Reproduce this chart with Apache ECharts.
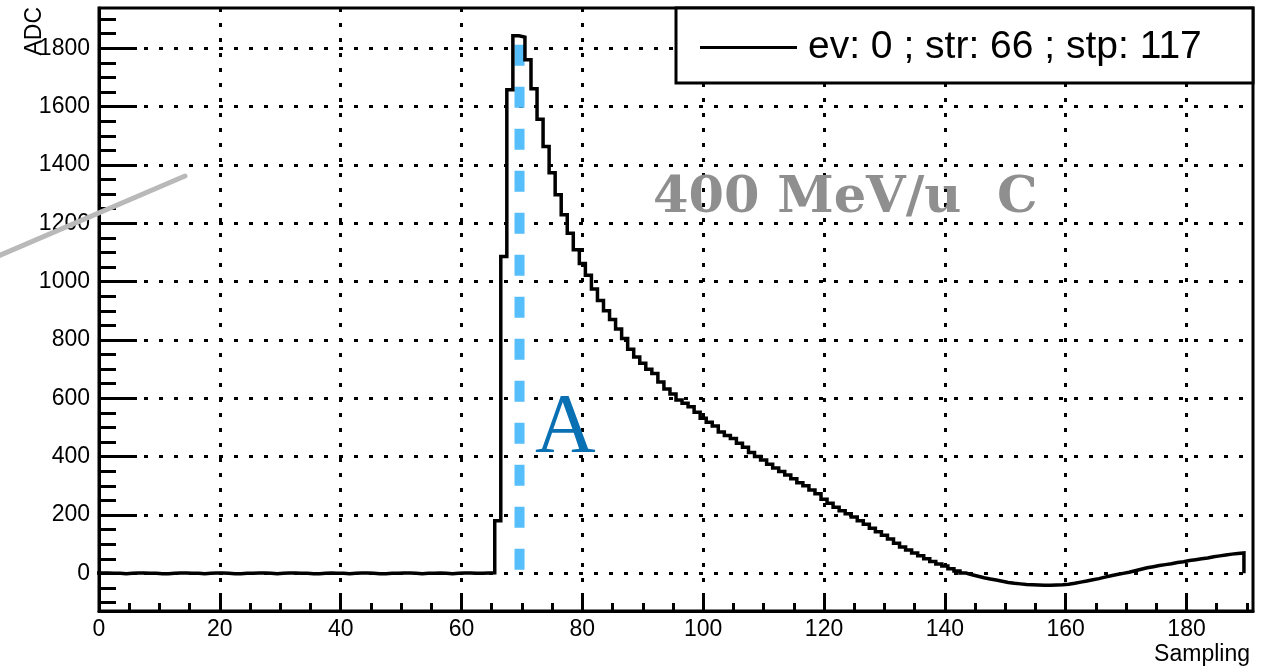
<!DOCTYPE html>
<html>
<head>
<meta charset="utf-8">
<title>ADC waveform</title>
<script src="https://cdn.jsdelivr.net/npm/echarts@6/dist/echarts.min.js"></script>
<style>
  html, body { margin: 0; padding: 0; background: #ffffff; }
  #chart { width: 1275px; height: 670px; }
</style>
</head>
<body>
<div id="chart"></div>
<script>
// ADC counts per sampling bin (bin k is centred on k)
const adcValues = [
  1, 1, 0, 0, -1, 0, 1, 1, 0, 0,
  -1, -1, 0, 1, 1, 0, 0, -1, 0, 1,
  1, 0, -1, -1, 0, 0, 1, 1, 0, -1,
  0, 1, 1, 0, 0, -1, -1, 0, 1, 0,
  0, -1, 0, 1, 1, 0, -1, -1, 0, 0,
  1, 1, 0, -1, 0, 0, 1, 0, -1, 0,
  1, 1, 0, 0, 1, 2, 180, 1086, 1658, 1843,
  1838, 1761, 1661, 1557, 1463, 1373, 1298, 1229, 1166, 1109,
  1062, 1022, 975, 935, 900, 870, 838, 805, 768, 742,
  720, 700, 685, 656, 632, 615, 594, 583, 571, 552,
  532, 518, 505, 485, 473, 462, 446, 432, 414, 401,
  389, 374, 361, 349, 337, 324, 311, 300, 286, 273,
  254, 240, 227, 215, 204, 193, 180, 168, 155, 143,
  131, 118, 103, 90, 80, 70, 60, 50, 41, 32,
  25, 16, 8, 1, -5, -10, -15, -19, -23, -27,
  -31, -34, -36, -38, -39, -40, -41, -41, -40, -39,
  -37, -34, -30, -26, -22, -18, -13, -8, -4, 0,
  4, 9, 14, 19, 23, 27, 30, 33, 37, 40,
  44, 47, 50, 53, 57, 60, 63, 66, 68, 70
];

// axis ranges and tick values
const samplingRange = [0, 191];
const adcRange = [-129, 1938];
const xMajorTicks = [0, 20, 40, 60, 80, 100, 120, 140, 160, 180];
const xMinorTicks = [5, 10, 15, 25, 30, 35, 45, 50, 55, 65, 70, 75, 85, 90, 95,
  105, 110, 115, 125, 130, 135, 145, 150, 155, 165, 170, 175, 185, 190];
const yMajorTicks = [0, 200, 400, 600, 800, 1000, 1200, 1400, 1600, 1800];
const yMinorTicks = [-100, -50, 50, 100, 150, 250, 300, 350, 450, 500, 550, 650, 700, 750,
  850, 900, 950, 1050, 1100, 1150, 1250, 1300, 1350, 1450, 1500, 1550, 1650, 1700, 1750,
  1850, 1900];

// amplitude marker: sampling position and its vertical extent
const amplitudeMarkX = 69.6;
const amplitudeMarkSpan = [1812, 5];

// texts
const histTitle = 'ev: 0 ; str: 66 ; stp: 117';
const xTitle = 'Sampling';
const yTitle = 'ADC';
const beamText = '400 MeV/u  C';
const amplitudeText = 'A';

// histogram outline: one point on each bin's left edge, then the closing edge
const histPoints = adcValues.map((v, k) => [k - 0.5, v]);
histPoints.push([adcValues.length - 0.5, adcValues[adcValues.length - 1]]);
histPoints.push([adcValues.length - 0.5, 0]);

const markerPoints = amplitudeMarkSpan.map(v => [amplitudeMarkX, v]);

const FONT = '"Liberation Sans", Arial, Helvetica, sans-serif';
const dotted = { color: '#000', width: 3, type: [4, 11] };
const plainNumber = v => String(v);

const chart = echarts.init(document.getElementById('chart'), null, { renderer: 'canvas' });

chart.setOption({
  animation: false,
  backgroundColor: '#ffffff',
  grid: {
    left: 99, right: 22, top: 8, bottom: 59,
    show: true, borderColor: '#000', borderWidth: 3,
    backgroundColor: 'transparent',
    outerBoundsMode: 'none'
  },
  xAxis: [
    {
      type: 'value', position: 'bottom',
      min: samplingRange[0], max: samplingRange[1],
      axisLine: { show: true, onZero: false, lineStyle: { color: '#000', width: 3 } },
      axisTick: { show: true, inside: true, length: 17, lineStyle: { color: '#000', width: 3 },
        customValues: xMajorTicks },
      axisLabel: { show: true, customValues: xMajorTicks, margin: 7, formatter: plainNumber,
        color: '#000', fontSize: 23, fontFamily: FONT },
      splitLine: { show: true, lineStyle: dotted },
      minorTick: { show: false }
    },
    {
      type: 'value', position: 'bottom', offset: 0,
      min: samplingRange[0], max: samplingRange[1],
      axisLine: { show: false, onZero: false },
      axisTick: { show: true, inside: true, length: 8, lineStyle: { color: '#000', width: 3 },
        customValues: xMinorTicks },
      axisLabel: { show: false },
      splitLine: { show: false }
    }
  ],
  yAxis: [
    {
      type: 'value', position: 'left',
      min: adcRange[0], max: adcRange[1],
      axisLine: { show: true, onZero: false, lineStyle: { color: '#000', width: 3 } },
      axisTick: { show: true, inside: true, length: 38, lineStyle: { color: '#000', width: 3 },
        customValues: yMajorTicks },
      axisLabel: { show: true, customValues: yMajorTicks, margin: 9, formatter: plainNumber,
        color: '#000', fontSize: 23, fontFamily: FONT },
      splitLine: { show: true, lineStyle: dotted },
      minorTick: { show: false }
    },
    {
      type: 'value', position: 'left', offset: 0,
      min: adcRange[0], max: adcRange[1],
      axisLine: { show: false, onZero: false },
      axisTick: { show: true, inside: true, length: 17, lineStyle: { color: '#000', width: 3 },
        customValues: yMinorTicks },
      axisLabel: { show: false },
      splitLine: { show: false }
    }
  ],
  legend: {
    data: [{ name: histTitle, icon: 'rect' }],
    left: 700, top: 28,
    padding: 0,
    itemWidth: 97, itemHeight: 3, itemGap: 0,
    selectedMode: false,
    z: 20,
    itemStyle: { color: '#000', borderWidth: 0 },
    textStyle: { color: '#000', fontSize: 39, fontFamily: FONT, padding: [0, 0, 0, 6] }
  },
  series: [
    {
      name: 'amplitude',
      type: 'line',
      xAxisIndex: 0, yAxisIndex: 0,
      data: markerPoints,
      symbol: 'none',
      silent: true,
      z: 2,
      lineStyle: { color: '#56BEFA', width: 10, type: [21, 21], cap: 'butt' }
    },
    {
      name: histTitle,
      type: 'line',
      xAxisIndex: 0, yAxisIndex: 0,
      step: 'end',
      data: histPoints,
      symbol: 'none',
      clip: true,
      z: 3,
      lineStyle: { color: '#000', width: 3.5, join: 'miter' },
      itemStyle: { color: '#000' }
    }
  ],
  graphic: [
    {
      type: 'rect', z: 10,
      shape: { x: 676, y: 8, width: 577, height: 75 },
      style: { fill: '#ffffff', stroke: '#000', lineWidth: 3 }
    },
    {
      type: 'text', z: 12,
      x: 653, y: 199,
      style: { text: beamText, fill: '#8F8F8F', font: 'bold 51px "DejaVu Serif", serif',
        align: 'left', verticalAlign: 'middle' }
    },
    {
      type: 'text', z: 12,
      x: 535, y: 430,
      style: { text: amplitudeText, fill: '#0A70B4', font: 'normal 84px "Liberation Serif", serif',
        align: 'left', verticalAlign: 'middle' }
    },
    {
      type: 'text', z: 12,
      x: 1250, y: 655,
      style: { text: xTitle, fill: '#000', font: 'normal 23px ' + FONT,
        align: 'right', verticalAlign: 'middle' }
    },
    {
      type: 'text', z: 12,
      x: 35, y: 7, rotation: Math.PI / 2,
      style: { text: yTitle, fill: '#000', font: 'normal 23px ' + FONT,
        align: 'right', verticalAlign: 'middle' }
    },
    {
      type: 'line', z: 30,
      shape: { x1: -4, y1: 257, x2: 185, y2: 176 },
      style: { stroke: '#B9B9B9', lineWidth: 5, lineCap: 'round' }
    }
  ]
});
</script>
</body>
</html>
